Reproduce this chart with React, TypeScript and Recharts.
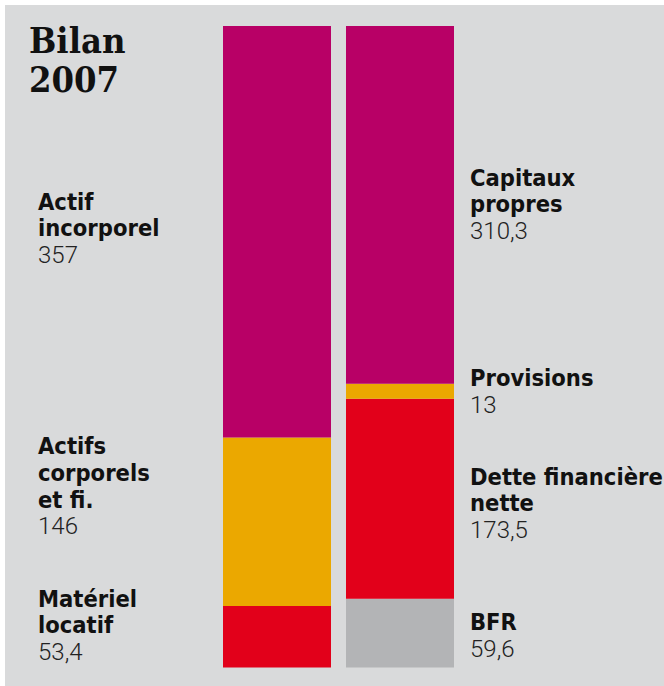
import { BarChart, Bar, XAxis, YAxis, Cell } from 'recharts'

// colonnes du bilan
const columns = ['Actif', 'Passif']

// de bas en haut
const actifNames = ['Matériel\nlocatif', 'Actifs\ncorporels\net fi.', 'Actif\nincorporel']
const actifValues = [53.4, 146, 357]
const passifNames = ['BFR', 'Dette financière\nnette', 'Provisions', 'Capitaux\npropres']
const passifValues = [59.6, 173.5, 13, 310.3]

const MAGENTA = '#B80066'
const ORANGE = '#EBA800'
const RED = '#E2001A'
const GREY = '#B3B4B6'
const BG = '#D9DADB'

const actifColors = [RED, ORANGE, MAGENTA]
const passifColors = [GREY, RED, ORANGE, MAGENTA]

// petits décalages verticaux des étiquettes (px)
const actifNudge = [-12, -36, -4]
const passifNudge = [2, 4, 0, -1]

const SERIES = ['s0', 's1', 's2', 's3']

const data = columns.map((name, i) => {
  const vals = i === 0 ? actifValues : passifValues
  const row: Record<string, any> = { name }
  SERIES.forEach((k, j) => {
    row[k] = vals[j] ?? null
  })
  return row
})

const total = Math.max(
  actifValues.reduce((a, b) => a + b, 0),
  passifValues.reduce((a, b) => a + b, 0)
)

const LINE = 26.7
const CAP = 17
const CHART_W = 659

const fmt = (v: number) => String(v).replace('.', ',')

function makeLabel(serie: number) {
  return (props: any) => {
    const { x, y, width, height, index } = props
    // colonne gauche ou droite selon la position de la barre
    const col = Number(x) + Number(width) / 2 < CHART_W / 2 ? 0 : 1
    const names = col === 0 ? actifNames : passifNames
    const vals = col === 0 ? actifValues : passifValues
    const nudge = col === 0 ? actifNudge : passifNudge
    if (!names[serie] || vals[serie] == null) return <g key={`e-${serie}-${index}`} />
    const lines = names[serie].split('\n')
    const n = lines.length + 1
    const center = Number(y) + Number(height) / 2
    const first = center - ((n - 1) * LINE - CAP) / 2 + nudge[serie]
    const tx = col === 0 ? Number(x) - 185 : Number(x) + Number(width) + 16
    return (
      <text key={`lbl-${serie}-${index}`} x={tx} y={first} textAnchor="start">
        {lines.map((l: string, k: number) => (
          <tspan
            key={k}
            x={tx}
            y={first + k * LINE}
            fontFamily="'DejaVu Sans Condensed', 'DejaVu Sans', sans-serif"
            fontWeight="bold"
            fontSize={23.5}
            fill="#111"
          >
            {l}
          </tspan>
        ))}
        <tspan
          x={tx}
          y={first + lines.length * LINE}
          fontFamily="Roboto, sans-serif"
          fontWeight={300}
          fontSize={24}
          fill="#222"
        >
          {fmt(vals[serie])}
        </tspan>
      </text>
    )
  }
}

export default function App() {
  return (
    <>
      <style>{`body{margin:0}`}</style>
      <div style={{ position: 'absolute', left: 5, top: 5, width: CHART_W, height: 681, background: BG }}>
        <BarChart
          width={CHART_W}
          height={681}
          data={data}
          margin={{ top: 21, right: 202.5, bottom: 18.5, left: 210.5 }}
          barCategoryGap={7.5}
        >
          <XAxis dataKey="name" hide />
          <YAxis type="number" domain={[0, total]} hide width={0} />
          {SERIES.map((k, j) => (
            <Bar key={k} dataKey={k} stackId="a" isAnimationActive={false} label={makeLabel(j)}>
              {data.map((_, i) => (
                <Cell key={`c-${i}`} fill={(i === 0 ? actifColors : passifColors)[j]} />
              ))}
            </Bar>
          ))}
        </BarChart>
        <svg width={200} height={110} style={{ position: 'absolute', left: 0, top: 0, pointerEvents: 'none' }}>
          <text
            fontFamily="'DejaVu Serif Condensed', 'DejaVu Serif', serif"
            fontWeight="bold"
            fontSize={36}
            fill="#111"
          >
            <tspan x={24} y={48}>Bilan</tspan>
            <tspan x={24} y={87}>2007</tspan>
          </text>
        </svg>
      </div>
    </>
  )
}
